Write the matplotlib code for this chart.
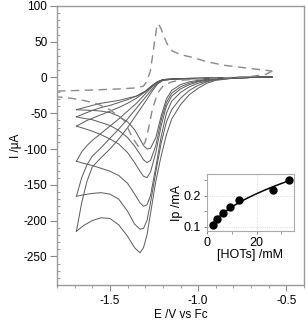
import numpy as np
import matplotlib
matplotlib.use('Agg')
from matplotlib import pyplot as plt
from matplotlib.ticker import MultipleLocator

plt.rcParams['font.family'] = ['Liberation Sans', 'DejaVu Sans']
plt.rcParams['font.size'] = 8.5

#### CV data (E /V vs Fc, I /uA)
# forward (cathodic) sweeps, right -> left
E_fwd = [-0.58, -0.7, -0.8, -0.9, -0.95, -1.0, -1.05, -1.1, -1.15, -1.18, -1.21, -1.24,
         -1.27, -1.29, -1.31, -1.33, -1.36, -1.4, -1.45, -1.5, -1.55, -1.6, -1.65, -1.69]
fwd_1 = [1, 0, -1, -4, -8, -15, -24, -38, -58, -80, -110, -145, -190, -220, -238, -245, -238, -222, -206, -197, -196, -200, -207, -215]
fwd_2 = [1, 0, -1, -3, -6, -11, -18, -29, -45, -62, -92, -132, -175, -200, -211, -212, -205, -187, -170, -163, -161, -162, -164, -166]
fwd_3 = [1, 0, -0.5, -2, -5, -8, -13, -21, -33, -50, -83, -125, -165, -178, -180, -175, -163, -148, -137, -131, -127, -123, -120, -117]
fwd_4 = [1, 0, -0.5, -2, -4, -6, -10, -16, -26, -40, -68, -105, -132, -140, -138, -131, -119, -105, -93, -86, -80, -75, -71, -68]
fwd_5 = [1, 0, -0.5, -1.5, -3, -5, -8, -13, -22, -35, -60, -95, -116, -119, -115, -107, -96, -84, -74, -67, -63, -59, -57, -55]
fwd_6 = [1, 0, -0.5, -1, -2.5, -4, -6, -10, -18, -30, -54, -84, -99, -100, -95, -86, -73, -62, -54, -49, -47, -46, -45.5, -45]

# reverse (anodic) sweeps, left -> right
E_rev = [-1.69, -1.66, -1.63, -1.6, -1.55, -1.5, -1.45, -1.4, -1.35, -1.3, -1.26, -1.23,
         -1.2, -1.15, -1.1, -1.0, -0.9, -0.8, -0.7, -0.58]
rev_1 = [-215, -175, -145, -125, -112, -100, -86, -70, -52, -34, -19, -9, -4, -2.5, -2, -1.5, -1, -0.5, 0, 1]
rev_2 = [-166, -140, -122, -110, -98, -85, -72, -58, -43, -28, -16, -8, -4, -2.5, -2, -1.5, -1, -0.5, 0, 1]
rev_3 = [-117, -104, -95, -88, -78, -68, -58, -47, -36, -23, -13, -7, -3.5, -2.5, -2, -1.5, -1, -0.5, 0, 1]
rev_4 = [-68, -64, -60, -57, -52, -47, -42, -36, -29, -20, -12, -6, -3, -2, -1.5, -1, -0.5, 0, 0.5, 1]
rev_5 = [-55, -52, -49, -46, -42, -39, -35, -31, -26, -19, -11, -6, -3, -2, -1.5, -1, -0.5, 0, 0.5, 1]
rev_6 = [-45, -43, -41, -39, -36, -34, -32, -29, -26, -20, -11, -6, -3, -2, -1.5, -1, -0.5, 0, 0.5, 1]

# no-acid CV (dashed)
E_dash_fwd = [-0.58, -0.62, -0.7, -0.9, -1.0, -1.1, -1.15, -1.2, -1.23, -1.26, -1.28, -1.3, -1.32,
              -1.34, -1.37, -1.42, -1.5, -1.57, -1.65, -1.72, -1.8]
I_dash_fwd = [9, 4, 1.5, -1, -2, -4, -6, -12, -22, -45, -70, -90, -98, -96, -85, -60, -45, -37, -32, -29, -27]
E_dash_rev = [-1.8, -1.6, -1.45, -1.35, -1.31, -1.29, -1.27, -1.25, -1.235, -1.225, -1.21, -1.19,
              -1.17, -1.146, -1.1, -1.03, -0.95, -0.85, -0.75, -0.65, -0.58]
I_dash_rev = [-19, -17.5, -16, -14.5, -12, -5, 10, 45, 70, 75, 68, 55, 44, 37, 32, 28, 22, 17, 14, 11, 9]

# inset: peak current vs acid concentration
hots = [2.5, 3.9, 6.6, 9.3, 13.0, 26.7, 33.1]
ip = [0.105, 0.126, 0.145, 0.162, 0.186, 0.219, 0.252]

fwds = [fwd_1, fwd_2, fwd_3, fwd_4, fwd_5, fwd_6]
revs = [rev_1, rev_2, rev_3, rev_4, rev_5, rev_6]

fig = plt.figure(figsize=(3.07, 3.22), dpi=100)
ax = fig.add_axes([0.1857, 0.115, 0.8046, 0.8665])

line_col = '#5a5a5a'
for f, r in zip(fwds, revs):
    ax.plot(E_fwd, f, color=line_col, lw=0.7)
    ax.plot(E_rev, r, color=line_col, lw=0.7)

ax.plot(E_dash_fwd, I_dash_fwd, color='#8a8a8a', lw=1.0, dashes=(6, 4))
ax.plot(E_dash_rev, I_dash_rev, color='#8a8a8a', lw=1.0, dashes=(6, 4))

ax.set_xlim(-1.8, -0.4)
ax.set_ylim(-290, 100)
ax.xaxis.set_minor_locator(MultipleLocator(0.1))
ax.yaxis.set_minor_locator(MultipleLocator(10))
ax.set_xticks([-1.5, -1.0, -0.5])
ax.set_xticklabels(['-1.5', '-1.0', '-0.5'])
ax.set_yticks([-250, -200, -150, -100, -50, 0, 50, 100])
ax.set_yticklabels(['-250', '-200', '-150', '-100', '-50', '0', '50', '100'])
ax.tick_params(axis='y', which='major', direction='out', length=5, color='#888888', pad=2)
ax.tick_params(axis='y', which='minor', direction='in', length=2.5, color='#888888')
ax.tick_params(axis='x', which='major', direction='out', length=4, color='#888888', pad=3)
ax.tick_params(axis='x', which='minor', direction='out', length=2.5, color='#888888')
for s in ax.spines.values():
    s.set_color('#999999')
    s.set_linewidth(1.0)
ax.set_xlabel('E /V vs Fc', labelpad=2)
ax.set_ylabel('I /μA', labelpad=1)

#### inset
ins = fig.add_axes([0.674, 0.2826, 0.283, 0.177])
ins.grid(True, color='#cccccc', lw=0.6, ls=':')
ins.set_axisbelow(True)
p = np.polyfit(np.sqrt(hots), ip, 1)
xf = np.linspace(hots[0], hots[-1], 100)
ins.plot(xf, np.polyval(p, np.sqrt(xf)), color='black', lw=1.1)
ins.plot(hots, ip, 'o', color='black', ms=5)
ins.set_xlim(0, 35)
ins.set_ylim(0.086, 0.27)
ins.set_xticks([0, 20])
ins.xaxis.set_minor_locator(MultipleLocator(10))
ins.set_yticks([0.1, 0.2])
ins.yaxis.set_minor_locator(MultipleLocator(0.05))
ins.tick_params(which='both', direction='out', length=2.5, color='#888888', pad=1.5, labelsize=9)
for s in ins.spines.values():
    s.set_color('#aaaaaa')
    s.set_linewidth(0.8)
ins.set_xlabel('[HOTs] /mM', labelpad=0, fontsize=9)
ins.set_ylabel('Ip /mA', labelpad=1, fontsize=9)

fig.savefig('out.png', dpi=100)
